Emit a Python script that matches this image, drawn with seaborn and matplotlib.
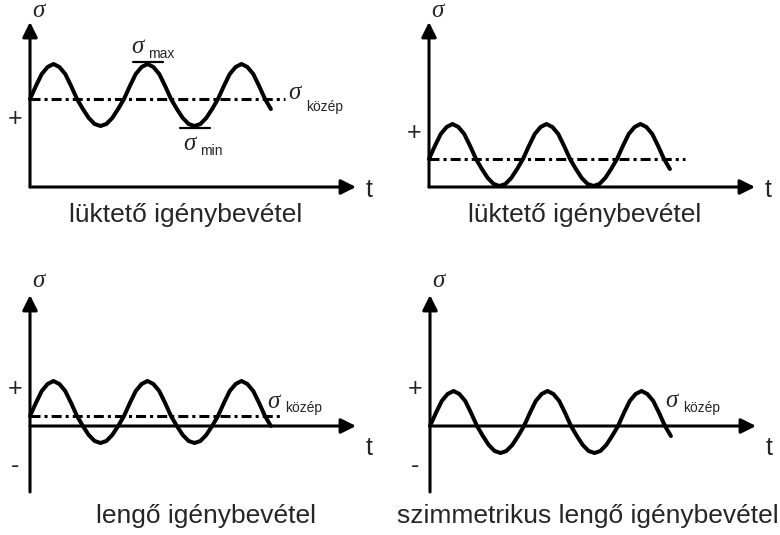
import numpy as np
import pandas as pd
import matplotlib
matplotlib.use('Agg')
import matplotlib.pyplot as plt
import seaborn as sns

wave_values = [0, 13, 25, 32, 35, 32, 25, 13, 0, -10, -19, -25, -27, -25, -19, -10,
               0, 13, 25, 32, 35, 32, 25, 13, 0, -10, -19, -25, -27, -25, -19, -10,
               0, 13, 25, 32, 35, 32, 25, 13, 0, -10]
wave_step = 5.875

panel_titles = ['lüktető igénybevétel', 'lüktető igénybevétel',
                'lengő igénybevétel', 'szimmetrikus lengő igénybevétel']
mean_levels = [88, 28, 10, 0]          # sigma_közép of each case
mean_line_ends = [255, 256, 250, None]  # length of the dash-dot mean line
sigma_axis_low = [0, 0, -66, -66]
has_minus = [False, False, True, True]

# panel placement (pixels of the 780x535 figure) and where the origin sits inside
panel_boxes = [(0, 0), (390, 0), (0, 267), (390, 267)]
origins = [(30, 187), (39, 187), (30, 159), (40, 159)]
PW, PH = 390, 268

sns.set_style('white')
plt.rcParams['font.family'] = ['Liberation Sans', 'DejaVu Sans']
plt.rcParams['lines.scale_dashes'] = False

SIGMA_FONT = dict(family=['Liberation Serif', 'DejaVu Serif'], style='italic')
SIGMA_SIZE = 18
SUB_SIZE = 10


def arrow(ax, start, tip):
    ax.annotate('', xy=tip, xytext=start,
                arrowprops=dict(arrowstyle='-|>,head_length=0.9,head_width=0.45',
                                lw=2.2, color='black', fc='black',
                                shrinkA=0, shrinkB=0, mutation_scale=10))


def draw_panel(ax, i):
    ox, oy = origins[i]
    ax.set_xlim(-ox, PW - ox)
    ax.set_ylim(oy - PH, oy)
    ax.set_axis_off()

    m = mean_levels[i]
    df = pd.DataFrame({'t': np.arange(len(wave_values)) * wave_step,
                       'sigma': np.array(wave_values) + m})
    sns.lineplot(data=df, x='t', y='sigma', ax=ax, color='black',
                 linewidth=2.9, sort=False, solid_joinstyle='round')

    if mean_line_ends[i] is not None:
        ax.plot([0, mean_line_ends[i]], [m, m], color='black', lw=2.2,
                linestyle=(0, (7.2, 2.9, 2.2, 2.9)))

    # axes with arrows
    arrow(ax, (0, 0), (326, 0))
    arrow(ax, (0, sigma_axis_low[i]), (0, 165 if i < 2 else 131))

    top = 170 if i < 2 else 139
    ax.text(8, top, 'σ', fontsize=SIGMA_SIZE, ha='center', va='baseline', **SIGMA_FONT)
    ax.text(339, -10 if i < 2 else -29, 't', fontsize=18, ha='center', va='baseline')
    plus_y = [61, 47.5, 30.5, 30.5][i]
    ax.text(-15, plus_y, '+', fontsize=18, ha='center', va='baseline')
    if has_minus[i]:
        ax.text(-15, -47, '-', fontsize=18, ha='center', va='baseline')

    tx = [156, 155.5, 175.5, 157.5][i]
    ty = -35 if i < 2 else -97
    ax.text(tx, ty, panel_titles[i], fontsize=19, ha='center', va='baseline')


fig = plt.figure(figsize=(7.8, 5.35), dpi=100)
axes = []
for i, (lx, ty) in enumerate(panel_boxes):
    ax = fig.add_axes([lx / 780, 1 - (ty + PH) / 535, PW / 780, PH / 535])
    draw_panel(ax, i)
    axes.append(ax)

# annotations of the first case: max / min and the mean
ax = axes[0]
peak_t, trough_t = 117.5, 164.5
ax.plot([peak_t - 15, peak_t + 15], [mean_levels[0] + 37, mean_levels[0] + 37], color='black', lw=1.6)
ax.plot([trough_t - 15, trough_t + 15], [mean_levels[0] - 29, mean_levels[0] - 29], color='black', lw=1.6)
ax.text(107.5, 134, 'σ', fontsize=SIGMA_SIZE, ha='center', va='baseline', **SIGMA_FONT)
ax.text(118, 128.5, 'max', fontsize=SUB_SIZE, ha='left', va='baseline')
ax.text(159.5, 37, 'σ', fontsize=SIGMA_SIZE, ha='center', va='baseline', **SIGMA_FONT)
ax.text(170, 32, 'min', fontsize=SUB_SIZE, ha='left', va='baseline')
ax.text(264, 88, 'σ', fontsize=SIGMA_SIZE, ha='center', va='baseline', **SIGMA_FONT)
ax.text(275.7, 76, 'közép', fontsize=SUB_SIZE, ha='left', va='baseline')

# mean labels of the swinging cases
for ax, (sx, sy, kx, ky) in zip(axes[2:], [(243.5, 18, 255, 14), (241, 19, 253, 14)]):
    ax.text(sx, sy, 'σ', fontsize=SIGMA_SIZE, ha='center', va='baseline', **SIGMA_FONT)
    ax.text(kx, ky, 'közép', fontsize=SUB_SIZE, ha='left', va='baseline')

fig.savefig('out.png', dpi=100, facecolor='white')
